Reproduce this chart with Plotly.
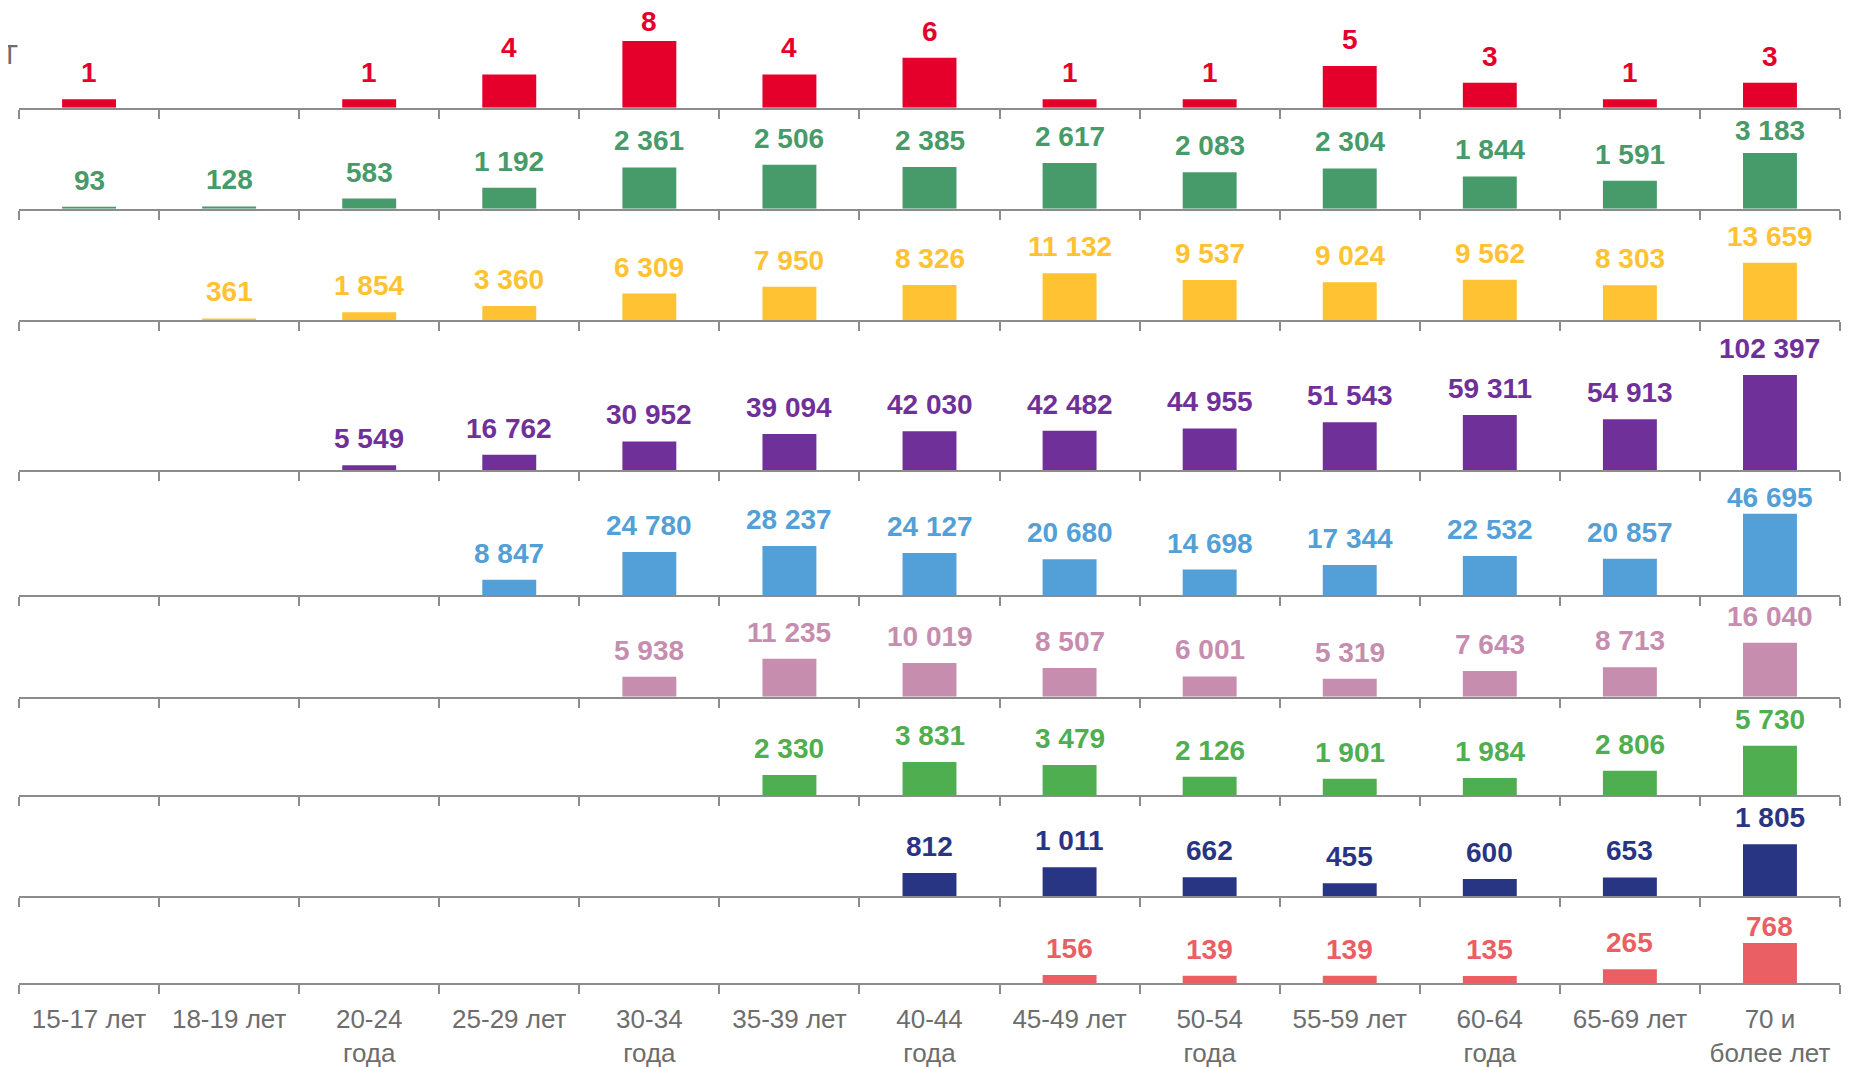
import plotly.graph_objects as go

categories = ["15-17 лет", "18-19 лет", "20-24 года", "25-29 лет", "30-34 года", "35-39 лет",
              "40-44 года", "45-49 лет", "50-54 года", "55-59 лет", "60-64 года", "65-69 лет",
              "70 и более лет"]
tick_labels = ["15-17 лет", "18-19 лет", "20-24<br>года", "25-29 лет", "30-34<br>года", "35-39 лет",
               "40-44<br>года", "45-49 лет", "50-54<br>года", "55-59 лет", "60-64<br>года", "65-69 лет",
               "70 и<br>более лет"]

s1_red = [1, None, 1, 4, 8, 4, 6, 1, 1, 5, 3, 1, 3]
s2_green = [93, 128, 583, 1192, 2361, 2506, 2385, 2617, 2083, 2304, 1844, 1591, 3183]
s3_yellow = [None, 361, 1854, 3360, 6309, 7950, 8326, 11132, 9537, 9024, 9562, 8303, 13659]
s4_purple = [None, None, 5549, 16762, 30952, 39094, 42030, 42482, 44955, 51543, 59311, 54913, 102397]
s5_blue = [None, None, None, 8847, 24780, 28237, 24127, 20680, 14698, 17344, 22532, 20857, 46695]
s6_pink = [None, None, None, None, 5938, 11235, 10019, 8507, 6001, 5319, 7643, 8713, 16040]
s7_green = [None, None, None, None, None, 2330, 3831, 3479, 2126, 1901, 1984, 2806, 5730]
s8_navy = [None, None, None, None, None, None, 812, 1011, 662, 455, 600, 653, 1805]
s9_salmon = [None, None, None, None, None, None, None, 156, 139, 139, 135, 265, 768]

series = [s1_red, s2_green, s3_yellow, s4_purple, s5_blue, s6_pink, s7_green, s8_navy, s9_salmon]
colors = ["#E4002B", "#479A69", "#FEC232", "#70309A", "#539FD7", "#C68DAF", "#4FAE4F", "#283582", "#EA5F64"]

# page offset of the plot div (default body margin)
OFF = 8
W, H = 1854 - OFF, 1067 - OFF
ML, MR, MT = 19 - OFF, 14, 0
page_baselines = [107.7, 208.7, 320.0, 470.3, 595.3, 696.7, 795.0, 896.3, 983.0]
page_tops = [0.0] + page_baselines[:-1]
baselines = [b - OFF for b in page_baselines]
MB = H - baselines[-1]
PH = H - MT - MB
# pixels per unit for each panel
ppu = [8.33, 0.0175, 0.004197, 0.000931, 0.001749, 0.003367, 0.0086, 0.02881, 0.05208]
# minimal room kept between a value label and the top of its panel (px)
label_room = [10, 11, 8, 8, 16, 8, 8, 8, 19]

fig = go.Figure()
axis_color = "#8C8C8C"
annotations = []
tops = [0.0] + baselines[:-1]
for i, (vals, col) in enumerate(zip(series, colors)):
    n = i + 1
    xa = "x" if n == 1 else f"x{n}"
    ya = "y" if n == 1 else f"y{n}"
    panel_h = baselines[i] - tops[i]
    ymax = panel_h / ppu[i]
    fig.add_trace(go.Bar(x=categories, y=vals, marker=dict(color=col, line=dict(width=0)),
                         width=0.385, xaxis=xa, yaxis=ya, showlegend=False, hoverinfo="skip"))
    dom = [max(0.0, (PH - baselines[i]) / PH), min(1.0, (PH - tops[i]) / PH)]
    last = (i == len(series) - 1)
    xkey = "xaxis" if n == 1 else f"xaxis{n}"
    ykey = "yaxis" if n == 1 else f"yaxis{n}"
    fig.layout[xkey] = dict(
        type="category", categoryorder="array", categoryarray=categories,
        range=[-0.5, len(categories) - 0.5], anchor=ya, domain=[0, 1], automargin=False,
        showline=True, linecolor=axis_color, linewidth=2,
        ticks="outside", tickson="boundaries", ticklen=9, tickwidth=2, tickcolor=axis_color,
        showgrid=False, zeroline=False, showticklabels=last,
        tickvals=categories, ticktext=tick_labels, ticklabelstandoff=12,
        tickfont=dict(family="Liberation Sans, Arial", size=26, color="#6D6D6D"),
        **({} if n == 1 else {"matches": "x"}))
    fig.layout[ykey] = dict(domain=dom, range=[0, ymax], anchor=xa, visible=False,
                            fixedrange=True, automargin=False)
    panel_page_h = page_baselines[i] - page_tops[i]
    for c, v in zip(categories, vals):
        if v is None:
            continue
        bar_px = v * ppu[i]
        gap = min(18.0, panel_page_h - label_room[i] - 20 - bar_px)
        annotations.append(dict(
            x=c, y=v, xref=xa, yref=ya, text="<b>" + f"{v:,}".replace(",", " ") + "</b>",
            showarrow=False, yanchor="bottom", xanchor="center", yshift=gap - 9,
            font=dict(family="Liberation Sans, Arial", size=28, color=col)))

annotations.append(dict(x=(12 - ML) / (W - ML - MR), y=(PH - 47) / PH, xref="paper", yref="paper",
                        text="СТ", showarrow=False, xanchor="right", yanchor="middle",
                        font=dict(family="Liberation Sans, Arial", size=27, color="#6D6D6D")))

fig.update_layout(width=W, height=H, autosize=False,
                  margin=dict(l=ML, r=MR, t=MT, b=MB, autoexpand=False),
                  paper_bgcolor="white", plot_bgcolor="white",
                  annotations=annotations, bargap=0.6)

fig.write_html("out.html")
